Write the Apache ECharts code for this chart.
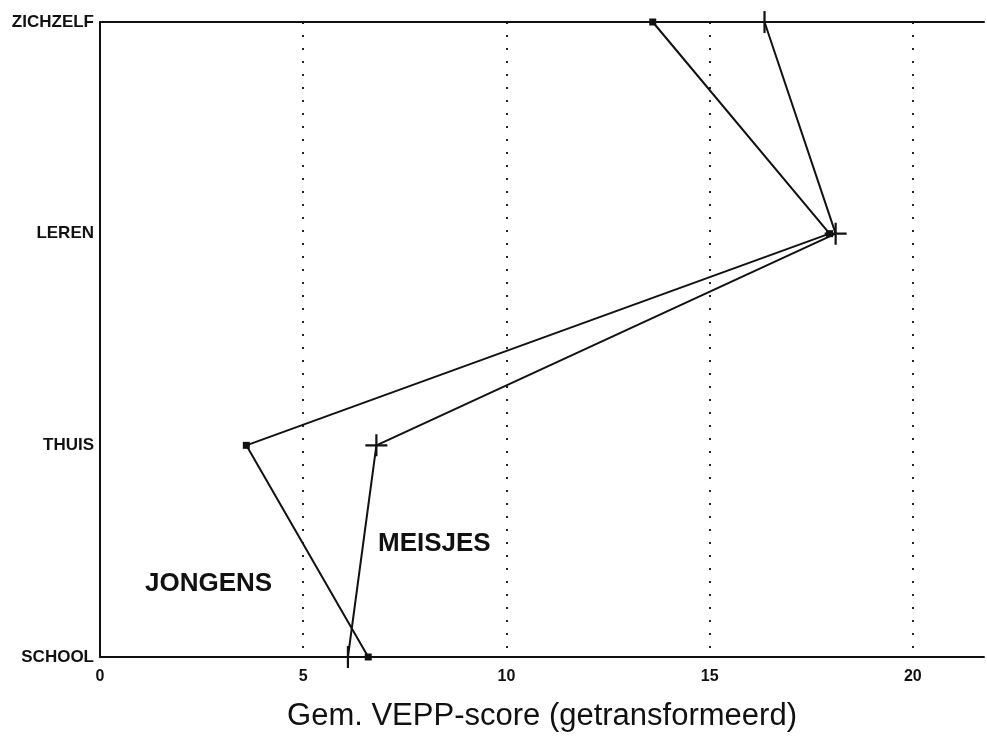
<!DOCTYPE html>
<html>
<head>
<meta charset="utf-8">
<script src="https://cdn.jsdelivr.net/npm/echarts@6/dist/echarts.min.js"></script>
<style>
  html, body { margin: 0; padding: 0; background: #fff; }
  #chart { width: 987px; height: 744px; }
</style>
</head>
<body>
<div id="chart"></div>
<script>
// categories from bottom to top
const categories = ["SCHOOL", "THUIS", "LEREN", "ZICHZELF"];
const jongens = [6.6, 3.6, 17.95, 13.6];
const meisjes = [6.1, 6.8, 18.1, 16.35];
const xTicks = [0, 5, 10, 15, 20];

const font = "Liberation Sans, Arial, Helvetica, sans-serif";
const plusPath = "path://M9,0H11V9H20V11H11V20H9V11H0V9H9Z";

const chart = echarts.init(document.getElementById("chart"), null, {
  renderer: "canvas",
});

const option = {
  animation: false,
  backgroundColor: "#fff",
  grid: { left: 100, right: 0, top: 22, bottom: 87 },
  xAxis: [
    {
      type: "value",
      min: 0,
      max: 21.75,
      interval: 5,
      position: "bottom",
      name: "Gem. VEPP-score (getransformeerd)",
      nameLocation: "middle",
      nameGap: 44,
      nameTextStyle: { fontFamily: font, fontSize: 31, color: "#111" },
      axisLine: { show: true, lineStyle: { color: "#111", width: 2 } },
      axisTick: { show: false },
      axisLabel: {
        fontFamily: font,
        fontSize: 16,
        fontWeight: "bold",
        color: "#111",
        margin: 12,
        formatter: (v) => (xTicks.includes(v) ? String(v) : ""),
      },
      splitLine: {
        show: true,
        showMinLine: false,
        showMaxLine: false,
        lineStyle: { color: "#222", width: 2, type: [2, 11] },
      },
    },
    {
      type: "value",
      min: 0,
      max: 21.75,
      position: "top",
      axisLine: { show: true, lineStyle: { color: "#111", width: 2 } },
      axisTick: { show: false },
      axisLabel: { show: false },
      splitLine: { show: false },
    },
  ],
  yAxis: {
    type: "category",
    data: categories,
    boundaryGap: false,
    axisLine: { show: true, lineStyle: { color: "#111", width: 2 } },
    axisTick: { show: false },
    axisLabel: {
      fontFamily: font,
      fontSize: 17,
      fontWeight: "bold",
      color: "#111",
      margin: 6,
    },
    splitLine: { show: false },
  },
  graphic: [
    {
      type: "text",
      left: 145,
      top: 571,
      style: {
        text: "JONGENS",
        font: "bold 26px " + font,
        fill: "#111",
      },
    },
    {
      type: "text",
      left: 378,
      top: 531,
      style: {
        text: "MEISJES",
        font: "bold 26px " + font,
        fill: "#111",
      },
    },
  ],
  series: [
    {
      name: "Jongens",
      type: "line",
      data: jongens,
      symbol: "rect",
      symbolSize: 7,
      lineStyle: { color: "#111", width: 2 },
      itemStyle: { color: "#111" },
    },
    {
      name: "Meisjes",
      type: "line",
      data: meisjes,
      symbol: plusPath,
      symbolSize: 22,
      lineStyle: { color: "#111", width: 2 },
      itemStyle: { color: "#111" },
    },
  ],
};

// value axis on x, so each point pairs a score with its category
option.series.forEach((s) => {
  s.data = s.data.map((v, i) => [v, categories[i]]);
});

chart.setOption(option);
</script>
</body>
</html>
